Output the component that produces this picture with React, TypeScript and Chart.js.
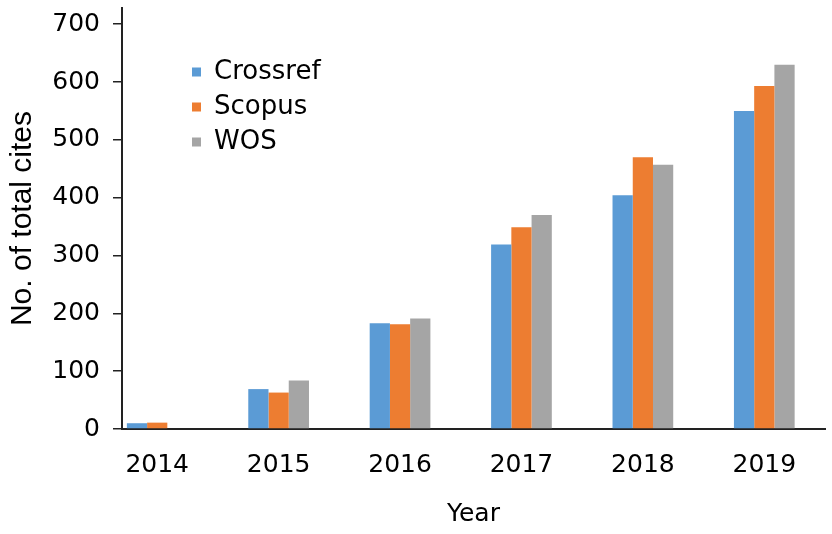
import React, { useEffect, useRef } from 'react';
import { Chart, registerables } from 'chart.js';

Chart.register(...registerables);

const years = ['2014', '2015', '2016', '2017', '2018', '2019'];
const crossref = [10, 69, 183, 319, 404, 550];
const scopus = [11, 63, 181, 349, 470, 593];
const wos = [0, 84, 191, 370, 457, 630];
const yTicks = [0, 100, 200, 300, 400, 500, 600, 700];
const seriesNames = ['Crossref', 'Scopus', 'WOS'];
const seriesValues = [crossref, scopus, wos];
const seriesColors = ['#5B9BD5', '#ED7D31', '#A5A5A5'];

const FONT = "'DejaVu Sans', 'Liberation Sans', Arial, sans-serif";
const TITLE_FONT = "'Liberation Sans', Arial, Helvetica, sans-serif";
const AXIS = '#222222';

const legendShift = {
  id: 'legendShift',
  afterLayout(chart: any, _args: any, opts: any) {
    const l = chart.legend;
    if (l) {
      l.left = chart.chartArea.left + (opts.x || 0);
      l.top = chart.chartArea.top + (opts.y || 0);
    }
  },
};

export default function App() {
  const ref = useRef<HTMLCanvasElement | null>(null);

  useEffect(() => {
    if (!ref.current) return;
    Chart.defaults.font.family = FONT;
    const chart = new Chart(ref.current, {
      type: 'bar',
      data: {
        datasets: seriesNames.map((name, s) => ({
          label: name,
          data: seriesValues[s].map((v, i) => ({ x: i, y: v })),
          backgroundColor: seriesColors[s],
          borderWidth: 0,
          barPercentage: 1,
          categoryPercentage: 0.5,
        })),
      },
      plugins: [legendShift],
      options: {
        animation: false,
        responsive: false,
        devicePixelRatio: 1,
        layout: { padding: { top: 8, right: 7, left: 0, bottom: 0 } },
        plugins: {
          legend: {
            position: 'chartArea',
            align: 'start',
            labels: {
              boxWidth: 9,
              boxHeight: 9,
              padding: 9,
              color: '#000',
              font: { size: 26, family: FONT, lineHeight: 1.2 },
            },
          },
          tooltip: { enabled: false },
          legendShift: { x: 61, y: 42 },
        } as any,
        scales: {
          x: {
            type: 'linear',
            min: -0.29,
            max: 5.5,
            offset: false,
            afterBuildTicks: (scale: any) => {
              scale.ticks = years.map((_, i) => ({ value: i }));
            },
            afterFit: (scale: any) => {
              scale.height = 105;
            },
            ticks: {
              callback: (v: any) => years[v] ?? '',
              color: '#000',
              padding: 21,
              maxRotation: 0,
              autoSkip: false,
              font: { size: 25, family: FONT, lineHeight: 1.2 },
            },
            grid: { display: false, drawTicks: false },
            border: { display: true, color: AXIS, width: 2 },
            title: {
              display: true,
              text: 'Year',
              color: '#000',
              font: { size: 25, family: FONT, lineHeight: 1.2 },
              padding: { top: 16, bottom: 5 },
            },
          },
          y: {
            type: 'linear',
            min: 0,
            max: 728,
            afterBuildTicks: (scale: any) => {
              scale.ticks = yTicks.map((v) => ({ value: v }));
            },
            afterFit: (scale: any) => {
              scale.paddingTop = 0;
              scale.paddingBottom = 0;
              scale.width = 122;
            },
            ticks: {
              color: '#000',
              padding: 13,
              font: { size: 25, family: FONT, lineHeight: 1.2 },
            },
            grid: {
              display: true,
              drawOnChartArea: false,
              drawTicks: true,
              tickLength: 9,
              color: AXIS,
              lineWidth: 1.5,
            },
            border: { display: true, color: AXIS, width: 2 },
            title: {
              display: true,
              text: 'No. of total cites',
              color: '#000',
              font: { size: 30, family: TITLE_FONT, lineHeight: 1.2 },
              padding: { top: 5, bottom: 0 },
            },
          },
        },
      } as any,
    });
    return () => chart.destroy();
  }, []);

  return (
    <div style={{ position: 'absolute', left: 0, top: 0, width: 832, height: 534, background: '#fff' }}>
      <canvas ref={ref} width={832} height={534} style={{ width: 832, height: 534, display: 'block' }} />
    </div>
  );
}
